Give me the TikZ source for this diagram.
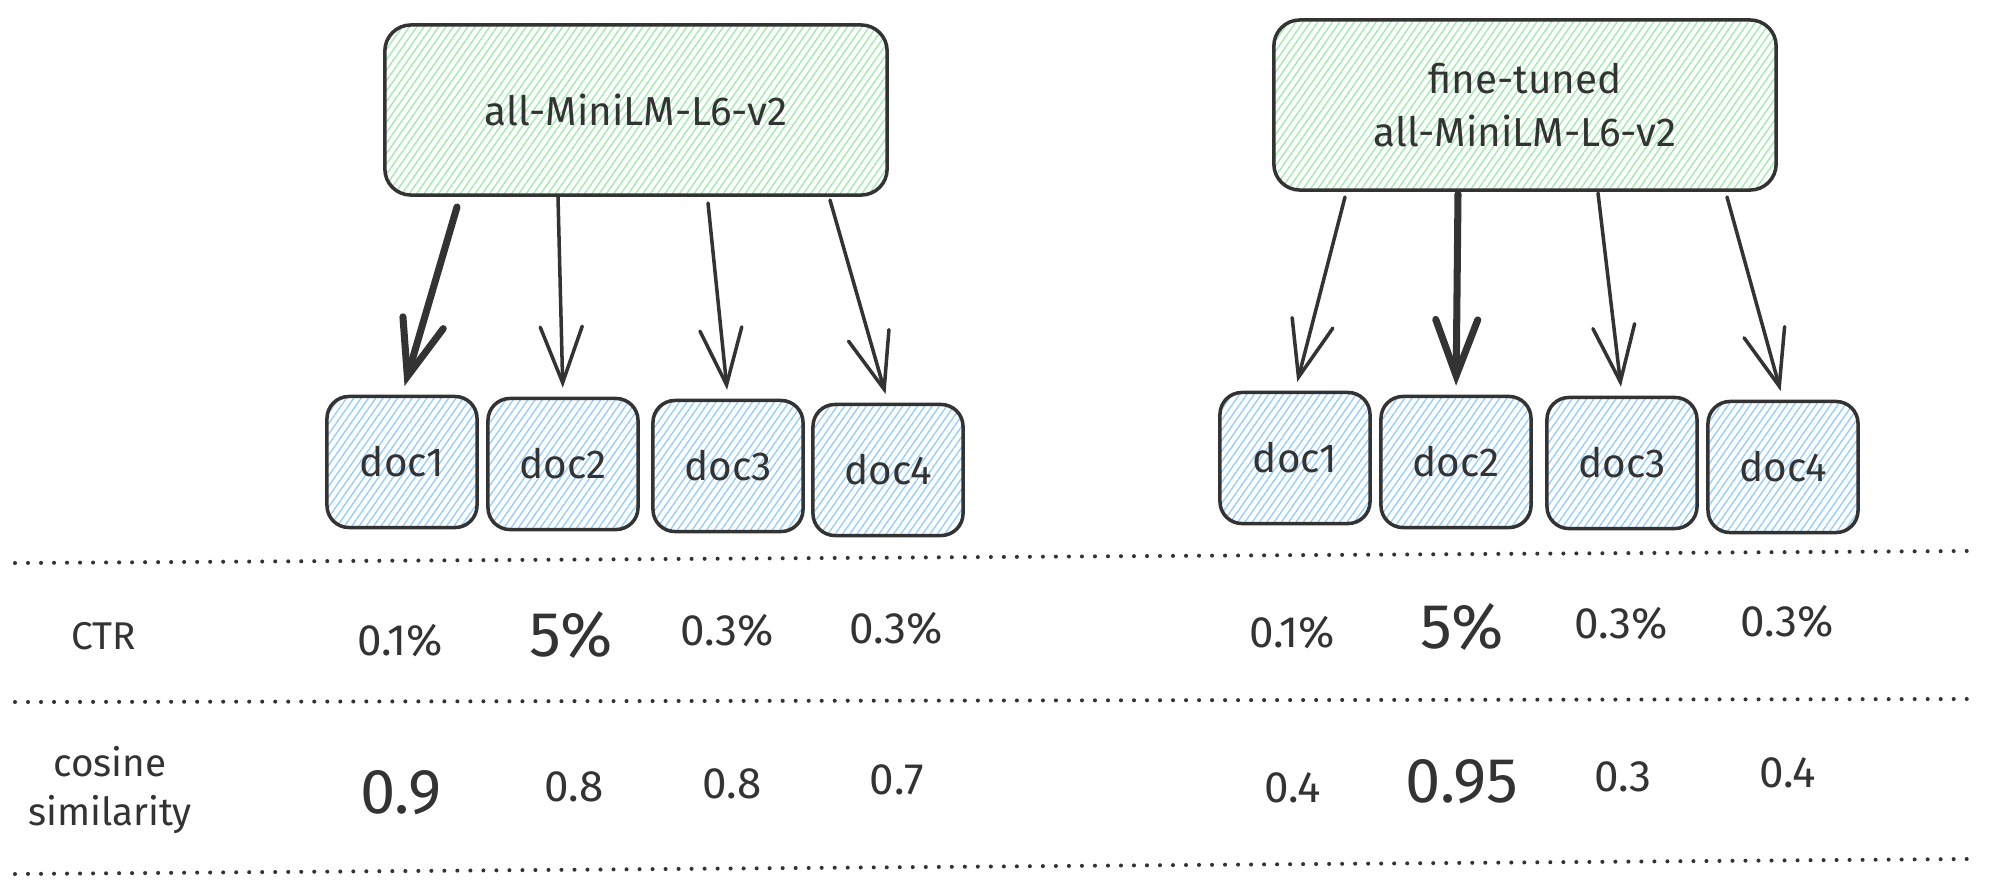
\documentclass[tikz,border=0pt]{standalone}
\usepackage{fontspec}
\setmainfont{Fira Sans}
\usetikzlibrary{arrows.meta,patterns.meta}
\definecolor{ink}{HTML}{333333}
\definecolor{hgreen}{HTML}{A2EBAF}
\definecolor{hblue}{HTML}{96CFFF}
\begin{document}
\begin{tikzpicture}[x=0.01cm,y=-0.01cm,
  modelbox/.style={draw=ink, line width=1pt, rounded corners=0.26cm,
    pattern={Lines[angle=55,distance=1.7pt,line width=0.4pt]}, pattern color=hgreen,
    text=ink, font=\fontsize{11.5}{15}\selectfont, align=center,
    minimum width=5.02cm, minimum height=1.70cm},
  docbox/.style={draw=ink, line width=1pt, rounded corners=0.22cm,
    pattern={Lines[angle=55,distance=1.7pt,line width=0.4pt]}, pattern color=hblue,
    text=ink, font=\fontsize{11.5}{14}\selectfont,
    minimum width=1.50cm, minimum height=1.31cm},
  link/.style={draw=ink, line width=1pt, line cap=round,
    -{Straight Barb[length=5.6mm,width=4.2mm,line cap=round]}, shorten >=0.09cm},
  strong/.style={line width=2pt},
  dotline/.style={draw=ink, line width=1.15pt, line cap=round, dash pattern=on 0pt off 3.7pt},
  lbl/.style={text=ink, font=\fontsize{11}{14}\selectfont, align=center},
  val/.style={text=ink, font=\fontsize{12.5}{15}\selectfont},
  bigval/.style={text=ink, font=\fontsize{18}{20}\selectfont}
]
\useasboundingbox (0,0) rectangle (1990,893);

% model boxes
\node[modelbox] (m1) at (636,110) {all-MiniLM-L6-v2};
\node[modelbox] (m2) at (1525,105) {fine-tuned\\all-MiniLM-L6-v2};

% documents (left)
\node[docbox] (l1) at (402,462) {doc1};
\node[docbox] (l2) at (563,464) {doc2};
\node[docbox] (l3) at (728,466) {doc3};
\node[docbox] (l4) at (888,470) {doc4};
% documents (right)
\node[docbox] (r1) at (1295,458) {doc1};
\node[docbox] (r2) at (1456,462) {doc2};
\node[docbox] (r3) at (1622,463) {doc3};
\node[docbox] (r4) at (1783,467) {doc4};

% arrow start points
\coordinate (sl1) at (457,207);
\coordinate (sl2) at (558,197);
\coordinate (sl3) at (708,203);
\coordinate (sl4) at (830,200);
\coordinate (sr1) at (1345,197);
\coordinate (sr2) at (1458,194);
\coordinate (sr3) at (1598,193);
\coordinate (sr4) at (1727,197);

\draw[link,strong] (sl1) -- (l1.north);
\draw[link] (sl2) -- (l2.north);
\draw[link] (sl3) -- (l3.north);
\draw[link] (sl4) -- (l4.north);
\draw[link] (sr1) -- (r1.north);
\draw[link,strong] (sr2) -- (r2.north);
\draw[link] (sr3) -- (r3.north);
\draw[link] (sr4) -- (r4.north);

% dotted separators
\draw[dotline] (15,563) -- (1967,551);
\draw[dotline] (15,702) -- (1967,699);
\draw[dotline] (15,874) -- (1967,859);

% row labels
\node[lbl] (ctr) at (104,636) {CTR};
\node[lbl] (cos) at (110,790) {cosine\\similarity};

% CTR values
\node[val] (cl1) at (400,641) {0.1\%};
\node[bigval] (cl2) at (571,635) {5\%};
\node[val] (cl3) at (727,631) {0.3\%};
\node[val] (cl4) at (896,629) {0.3\%};
\node[val] (cr1) at (1292,633) {0.1\%};
\node[bigval] (cr2) at (1462,627) {5\%};
\node[val] (cr3) at (1621,624) {0.3\%};
\node[val] (cr4) at (1787,622) {0.3\%};

% cosine similarity values
\node[bigval] (vl1) at (401,793) {0.9};
\node[val] (vl2) at (574,787) {0.8};
\node[val] (vl3) at (732,784) {0.8};
\node[val] (vl4) at (897,780) {0.7};
\node[val] (vr1) at (1293,788) {0.4};
\node[bigval] (vr2) at (1462,782) {0.95};
\node[val] (vr3) at (1623,777) {0.3};
\node[val] (vr4) at (1788,773) {0.4};
\end{tikzpicture}
\end{document}
